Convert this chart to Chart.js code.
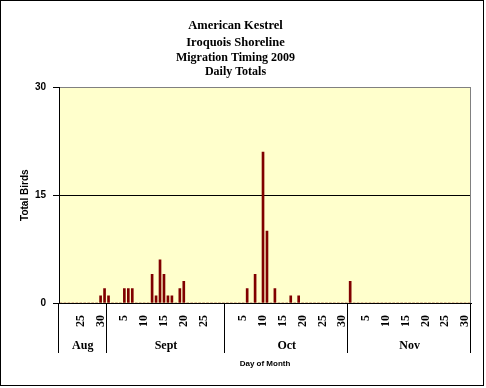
<!DOCTYPE html>
<html>
<head>
<meta charset="utf-8">
<script src="https://cdn.jsdelivr.net/npm/chart.js@4.4.1/dist/chart.umd.min.js"></script>
<style>
  html, body { margin: 0; padding: 0; background: #fff; }
  #wrap { width: 486px; height: 388px; position: relative; }
</style>
</head>
<body>
<div id="wrap"><canvas id="chart-1"></canvas></div>
<script>
// month groups on the category axis (Nov has one spare slot at the end)
const months = ["Aug", "Sept", "Oct", "Nov"];
const monthFirstDay = [20, 1, 1, 1];
const monthLastDay = [31, 30, 31, 31];
// day numbers printed under each month
const augTicks = [25, 30];
const septTicks = [5, 10, 15, 20, 25];
const octTicks = [5, 10, 15, 20, 25, 30];
const novTicks = [5, 10, 15, 20, 25, 30];
const yTicks = [0, 15, 30];

// daily totals, one value per day of each month group
const augBirds = [0, 0, 0, 0, 0, 0, 0, 0, 0, 0, 1, 2];
const septBirds = [
  1, 0, 0, 0, 2, 2, 2, 0, 0, 0,
  0, 4, 1, 6, 4, 1, 1, 0, 2, 3,
  0, 0, 0, 0, 0, 0, 0, 0, 0, 0,
];
const octBirds = [
  0, 0, 0, 0, 0, 2, 0, 4, 0, 21,
  10, 0, 2, 0, 0, 0, 1, 0, 1, 0,
  0, 0, 0, 0, 0, 0, 0, 0, 0, 0, 0,
];
const novBirds = [
  3, 0, 0, 0, 0, 0, 0, 0, 0, 0,
  0, 0, 0, 0, 0, 0, 0, 0, 0, 0,
  0, 0, 0, 0, 0, 0, 0, 0, 0, 0, 0,
];

const monthTicks = [augTicks, septTicks, octTicks, novTicks];
const labels = [];
const tickText = [];
const groupStart = [];
months.forEach((m, i) => {
  groupStart.push(labels.length);
  for (let d = monthFirstDay[i]; d <= monthLastDay[i]; d++) {
    labels.push(m + " " + d);
    tickText.push(monthTicks[i].includes(d) ? String(d) : "");
  }
});
groupStart.push(labels.length);
const counts = [].concat(augBirds, septBirds, octBirds, novBirds);

const plotDecor = {
  id: "plotDecor",
  beforeDraw(chart) {
    const { ctx, chartArea: a } = chart;
    ctx.save();
    ctx.fillStyle = "#ffffff";
    ctx.fillRect(0, 0, chart.width, chart.height);
    ctx.fillStyle = "#FFFFCC";
    ctx.fillRect(a.left, a.top, a.right - a.left, a.bottom - a.top);
    ctx.restore();
  },
  afterDraw(chart) {
    const { ctx, chartArea: a } = chart;
    const x = chart.scales.x;
    const w = x.getPixelForValue(1) - x.getPixelForValue(0);
    const edge = (i) => x.getPixelForValue(0) - w / 2 + i * w;
    ctx.save();
    // right border of the plot
    ctx.strokeStyle = "#808080";
    ctx.lineWidth = 1;
    ctx.beginPath();
    ctx.moveTo(Math.round(a.right) - 0.5, a.top);
    ctx.lineTo(Math.round(a.right) - 0.5, a.bottom);
    ctx.stroke();
    // month dividers and names
    ctx.strokeStyle = "#000";
    ctx.fillStyle = "#000";
    ctx.font = "bold 12px 'Liberation Serif'";
    ctx.textAlign = "center";
    ctx.textBaseline = "middle";
    groupStart.forEach((g, i) => {
      const px = Math.round(edge(g)) - 0.5;
      ctx.beginPath();
      ctx.moveTo(px, a.bottom);
      ctx.lineTo(px, a.bottom + 50);
      ctx.stroke();
      if (i < months.length) {
        ctx.fillText(months[i], (edge(g) + edge(groupStart[i + 1])) / 2, a.bottom + 43);
      }
    });
    // outer frame
    ctx.strokeRect(0.5, 0.5, 483, 385);
    ctx.restore();
  },
};

const ctx_1 = document.getElementById("chart-1");
new Chart(ctx_1, {
  type: "bar",
  data: {
    labels: labels,
    datasets: [
      {
        label: "Total Birds",
        data: counts,
        backgroundColor: "#800000",
        barThickness: 2,
      },
    ],
  },
  options: {
    responsive: true,
    maintainAspectRatio: false,
    animation: false,
    layout: {
      padding: { left: 0, right: 15, top: 0, bottom: 0 },
    },
    plugins: {
      legend: { display: false },
      tooltip: { enabled: false },
      title: {
        display: true,
        text: ["American Kestrel", "Iroquois Shoreline"],
        color: "#000",
        font: { family: "Liberation Serif", size: 12.5, weight: "bold", lineHeight: 1.36 },
        padding: { top: 17, bottom: 0 },
      },
      subtitle: {
        display: true,
        text: ["Migration Timing 2009", "Daily Totals"],
        color: "#000",
        font: { family: "Liberation Serif", size: 12, weight: "bold", lineHeight: 1.12 },
        padding: { top: 0.5, bottom: 9 },
      },
    },
    scales: {
      x: {
        grid: { display: false },
        border: { display: true, color: "#000" },
        ticks: {
          autoSkip: false,
          minRotation: 90,
          maxRotation: 90,
          padding: 4,
          color: "#000",
          font: { family: "Liberation Serif", size: 12, weight: "bold" },
          callback: function (value, index) {
            return tickText[index];
          },
        },
        title: {
          display: true,
          text: "Day of Month",
          color: "#000",
          font: { family: "Liberation Sans", size: 8, weight: "bold" },
          padding: { top: 0, bottom: 19 },
        },
        afterFit: function (scale) {
          scale.height = 85;
          scale.paddingLeft = 0;
          scale.paddingRight = 0;
        },
      },
      y: {
        min: 0,
        max: 30,
        afterBuildTicks: function (scale) {
          scale.ticks = yTicks.map((v) => ({ value: v }));
        },
        grid: {
          color: function (c) {
            return c.tick.value === 30 ? "#808080" : "#000";
          },
          tickColor: "#000",
          tickLength: 6,
        },
        border: { display: true, color: "#000" },
        ticks: {
          padding: 7,
          color: "#000",
          font: { family: "Liberation Sans", size: 10, weight: "bold" },
        },
        title: {
          display: true,
          text: "Total Birds",
          color: "#000",
          font: { family: "Liberation Sans", size: 10, weight: "bold" },
          padding: { top: 19, bottom: 0 },
        },
        afterFit: function (scale) {
          scale.width = 59;
        },
      },
    },
  },
  plugins: [plotDecor],
});
</script>
</body>
</html>
